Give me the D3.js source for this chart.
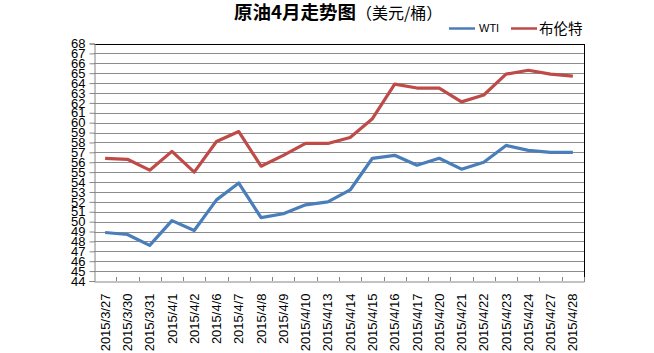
<!DOCTYPE html>
<html><head><meta charset="utf-8">
<script src="https://cdn.jsdelivr.net/npm/d3@7"></script>
<style>body{margin:0;background:#fff}svg{display:block}</style>
</head><body>
<svg id="c" width="654" height="353"></svg>
<script>
const categories = ["2015/3/27","2015/3/30","2015/3/31","2015/4/1","2015/4/2","2015/4/6","2015/4/7","2015/4/8","2015/4/9","2015/4/10","2015/4/13","2015/4/14","2015/4/15","2015/4/16","2015/4/17","2015/4/20","2015/4/21","2015/4/22","2015/4/23","2015/4/24","2015/4/27","2015/4/28"];
const wti   = [48.9,48.7,47.6,50.1,49.1,52.2,53.9,50.4,50.8,51.7,52.0,53.2,56.4,56.7,55.7,56.4,55.3,56.0,57.7,57.2,57.0,57.0];
const brent = [56.4,56.3,55.2,57.1,55.0,58.1,59.1,55.6,56.7,57.9,57.9,58.5,60.4,63.9,63.5,63.5,62.1,62.8,64.9,65.3,64.9,64.7];
const yTicks = d3.range(44, 69, 1);
const seriesNames = ["WTI","布伦特"];
const colors = ["#4a7ebb","#be4b48"];
const title = "原油4月走势图";
const unit = "（美元/桶）";

const svg = d3.select("#c");
const L = 94, R = 584, T = 43.5, B = 281;
const x = d3.scaleBand().domain(categories).range([L, R]);
const y = d3.scaleLinear().domain([44, 68]).range([B, T]);
const font = "'Liberation Sans', Arial, sans-serif";

// gridlines
svg.append("g").selectAll("line").data(yTicks.filter(v => v > 44)).join("line")
  .attr("x1", L).attr("x2", R).attr("y1", d => Math.round(y(d)) + 0.5).attr("y2", d => Math.round(y(d)) + 0.5)
  .attr("stroke", d => d === 68 ? "#000" : "#8c8c8c").attr("stroke-width", 1);
// right border
svg.append("line").attr("x1", R + 0.5).attr("x2", R + 0.5).attr("y1", Math.round(T)).attr("y2", Math.round(B) + 0.5)
  .attr("stroke", "#000");

// y axis
const yAxis = d3.axisLeft(y).tickValues(yTicks).tickSize(5).tickPadding(4).tickFormat(d3.format("d"));
const gy = svg.append("g").attr("transform", `translate(${L + 0.5},0)`).call(yAxis);
gy.select(".domain").attr("stroke", "#868686");
gy.selectAll(".tick line").attr("stroke", "#868686");
gy.selectAll("text").attr("font-family", font).attr("font-size", 13).attr("fill", "#000");

// x axis
const xAxis = d3.axisBottom(x).tickSize(0).tickPadding(0);
const gx = svg.append("g").attr("transform", `translate(0,${Math.round(B) + 0.5})`).call(xAxis);
gx.select(".domain").attr("stroke", "#868686");
gx.selectAll(".tick text")
  .attr("font-family", font).attr("font-size", 13).attr("fill", "#000")
  .attr("text-anchor", "end").attr("dy", "0.35em")
  .attr("transform", "translate(0,12) rotate(-90)").attr("x", 0).attr("y", 0);
// category boundary ticks (inside, upward)
svg.append("g").selectAll("line").data(d3.range(1, categories.length + 1)).join("line")
  .attr("x1", d => Math.round(L + d * x.step()) + 0.5).attr("x2", d => Math.round(L + d * x.step()) + 0.5)
  .attr("y1", Math.round(B) - 4).attr("y2", Math.round(B))
  .attr("stroke", "#868686");

// lines
const line = d3.line().x((d, i) => x(categories[i]) + x.bandwidth() / 2).y(d => y(d));
[wti, brent].forEach((s, i) => {
  svg.append("path").datum(s).attr("d", line).attr("fill", "none")
    .attr("stroke", colors[i]).attr("stroke-width", 3.2).attr("stroke-linejoin", "round");
});

// title
const t = svg.append("text").attr("x", 234).attr("y", 19).attr("font-family", "'Noto Sans CJK SC', sans-serif");
t.append("tspan").attr("font-size", 18.5).attr("font-weight", "bold").text(title);
t.append("tspan").attr("font-size", 16).text(unit);

// legend
const lg = svg.append("g");
const lx = [449, 511], tx = [479, 539];
seriesNames.forEach((n, i) => {
  lg.append("line").attr("x1", lx[i]).attr("x2", lx[i] + 26).attr("y1", 28.5).attr("y2", 28.5)
    .attr("stroke", colors[i]).attr("stroke-width", 2.5);
  lg.append("text").attr("x", tx[i]).attr("y", 28.5).attr("dy", "0.35em")
    .attr("font-family", i === 0 ? font : "'Noto Sans CJK SC', sans-serif")
    .attr("font-size", i === 0 ? 11 : 14.5).text(n);
});
</script>
</body></html>
